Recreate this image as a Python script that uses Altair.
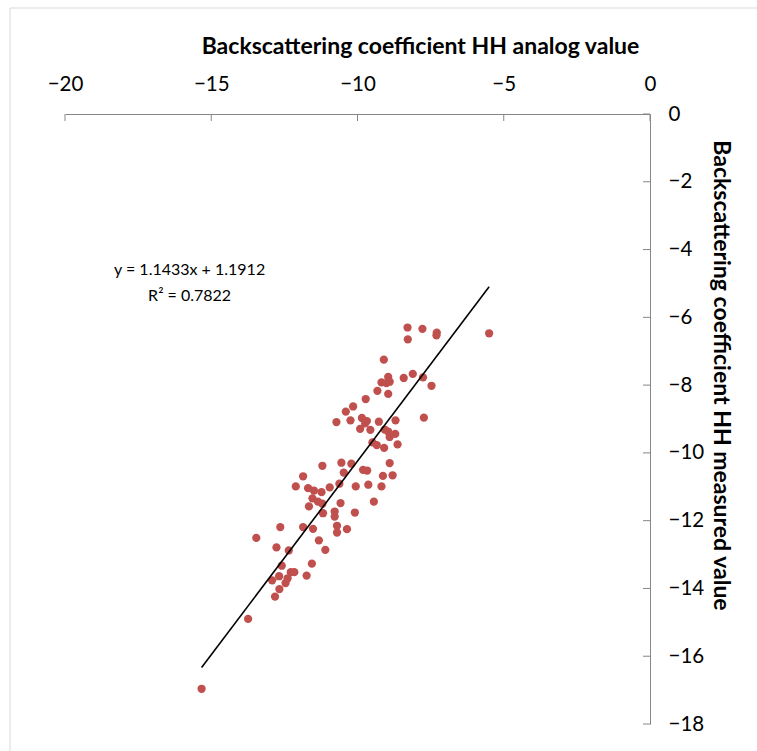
import altair as alt
import pandas as pd

# Values
analog = [-8.29, -7.78, -7.29, -7.30, -8.28, -5.50, -9.10, -8.95, -9.18, -9.01,
          -8.90, -9.32, -8.95, -8.42, -8.11, -7.76, -7.47, -9.72, -10.15, -10.40,
          -10.72, -10.24, -9.85, -9.68, -9.74, -9.91, -9.56, -9.27, -8.70, -9.07,
          -8.95, -8.71, -8.90, -9.49, -9.34, -9.09, -8.63, -7.73, -10.55, -10.47,
          -10.21, -11.20, -9.81, -9.67, -8.90, -9.13, -8.80, -11.86, -10.62, -10.06,
          -9.63, -9.18, -12.11, -11.69, -11.49, -11.23, -10.95, -11.54, -11.35, -11.20,
          -11.66, -10.58, -9.44, -11.18, -10.78, -10.78, -10.09, -12.64, -11.86, -11.52,
          -10.70, -10.70, -10.36, -13.46, -11.32, -12.77, -12.35, -11.10, -12.59, -11.56,
          -12.28, -12.16, -11.74, -12.68, -12.92, -12.39, -12.46, -12.67, -12.82, -13.74,
          -15.33]
measured = [-6.30, -6.34, -6.45, -6.53, -6.65, -6.47, -7.25, -7.76, -7.92, -7.94,
            -7.90, -8.17, -8.26, -7.79, -7.67, -7.77, -8.02, -8.41, -8.63, -8.78,
            -9.09, -9.04, -8.97, -9.06, -9.13, -9.29, -9.32, -9.08, -9.04, -9.31,
            -9.37, -9.44, -9.53, -9.69, -9.77, -9.85, -9.75, -8.96, -10.29, -10.58,
            -10.32, -10.38, -10.50, -10.52, -10.30, -10.68, -10.66, -10.69, -10.91, -10.99,
            -10.94, -10.99, -10.99, -11.04, -11.11, -11.16, -11.02, -11.34, -11.44, -11.50,
            -11.58, -11.48, -11.44, -11.78, -11.73, -11.88, -11.76, -12.19, -12.19, -12.24,
            -12.15, -12.35, -12.25, -12.51, -12.58, -12.79, -12.88, -12.86, -13.33, -13.27,
            -13.52, -13.52, -13.62, -13.64, -13.76, -13.70, -13.84, -14.02, -14.24, -14.90,
            -16.96]

x_ticks = [-20, -15, -10, -5, 0]
y_ticks = [0, -2, -4, -6, -8, -10, -12, -14, -16, -18]
slope = 1.1433
intercept = 1.1912
eq_text = ["y = 1.1433x + 1.1912", "R² = 0.7822"]
eq_pos_x = [-15.74, -15.74]
eq_pos_y = [-4.60, -5.37]

x_title = "Backscattering coefficient HH analog value"
y_title = "Backscattering coefficient HH measured value"

FONT = "Lato"
AXIS_GREY = "#868686"

pts = pd.DataFrame({"analog": analog, "measured": measured})
xmin, xmax = min(analog), max(analog)
trend = pd.DataFrame({"analog": [xmin, xmax],
                      "measured": [slope * xmin + intercept, slope * xmax + intercept]})
xt = pd.DataFrame({"analog": x_ticks})
yt = pd.DataFrame({"measured": y_ticks})
eq = pd.DataFrame({"t": eq_text, "analog": eq_pos_x, "measured": eq_pos_y})

W, H = 585, 610
xscale = alt.Scale(domain=[-20, 0], nice=False, zero=False)
yscale = alt.Scale(domain=[-18, 0], nice=False, zero=False)

x_axis = alt.Axis(orient="top", values=x_ticks, title=x_title, grid=False,
                  ticks=False, tickSize=0, domainColor=AXIS_GREY, domainWidth=1,
                  labelFont=FONT, labelFontSize=20.5, labelColor="#000000", labelPadding=20,
                  titleFont=FONT, titleFontSize=23, titleFontWeight="bold", titleColor="#000000",
                  titleX=355, titleY=-68, titleAlign="center", titleBaseline="middle",
                  labelFlush=False)
y_axis = alt.Axis(orient="right", values=y_ticks, title=y_title, grid=False,
                  ticks=False, tickSize=0, domainColor=AXIS_GREY, domainWidth=1,
                  labelFont=FONT, labelFontSize=20.5, labelColor="#000000", labelPadding=18,
                  labelAlign="left", labelFlush=False,
                  titleFont=FONT, titleFontSize=23, titleFontWeight="bold", titleColor="#000000",
                  titleX=70, titleY=261, titleAngle=90, titleAlign="center", titleBaseline="middle")

X = alt.X("analog:Q", scale=xscale, axis=x_axis, title=x_title)
Y = alt.Y("measured:Q", scale=yscale, axis=y_axis, title=y_title)

frame = alt.Chart(pd.DataFrame({"a": [0]})).mark_rect(
    fillOpacity=0, stroke="#d9d9d9", strokeWidth=1, clip=False
).encode(x=alt.value(-55), x2=alt.value(W + 150), y=alt.value(-106), y2=alt.value(H + 150))

points = alt.Chart(pts).mark_circle(size=68, color="#C0504D", opacity=1).encode(x=X, y=Y)

line = alt.Chart(trend).mark_line(color="#000000", strokeWidth=1.6).encode(x=X, y=Y)

xtick = alt.Chart(xt).mark_rule(color=AXIS_GREY, strokeWidth=1).encode(
    x=X, y=alt.value(0), y2=alt.value(7)
)
ytick = alt.Chart(yt).mark_rule(color=AXIS_GREY, strokeWidth=1).encode(
    y=Y, x=alt.value(W - 7), x2=alt.value(W)
)

text = alt.Chart(eq).mark_text(font=FONT, fontSize=16, color="#000000", align="center",
                               baseline="middle").encode(x=X, y=Y, text="t:N")

chart = alt.layer(points, line, xtick, ytick, text, frame).properties(
    width=W, height=H,
    autosize=alt.AutoSizeParams(type="none"),
    padding={"left": 65, "top": 114, "right": 107, "bottom": 27},
    background="white",
).configure_view(strokeWidth=0)

chart.save("out.html", embed_options={"renderer": "svg", "actions": False})
